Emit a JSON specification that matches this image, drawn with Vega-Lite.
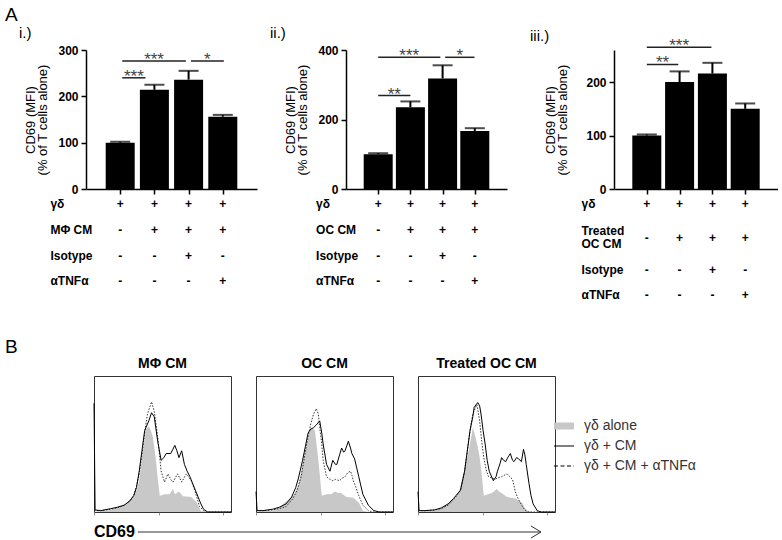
{
"$schema": "https://vega.github.io/schema/vega-lite/v6.json",
"padding": {"left": 5, "top": 5, "right": 0, "bottom": 0},
"config": {
  "font": "Liberation Sans",
  "view": {"stroke": null},
  "axis": {"labelColor": "black", "titleColor": "black", "domainColor": "black", "tickColor": "black", "grid": false, "labelFont": "Liberation Sans", "titleFont": "Liberation Sans"},
  "title": {"color": "black", "fontWeight": "normal", "font": "Liberation Sans", "baseline": "alphabetic"},
  "text": {"font": "Liberation Sans", "color": "black"},
  "legend": {"layout": {"right": {"anchor": "middle"}}, "labelFont": "Liberation Sans", "labelFontSize": 14, "labelColor": "#333", "symbolSize": 400, "rowPadding": 2, "labelOffset": 9, "offset": 13, "padding": 0}
},
"datasets": {
  "bi": [{"pos":1,"mfi":100,"up":102},{"pos":2,"mfi":214,"up":225},{"pos":3,"mfi":236,"up":255},{"pos":4,"mfi":156,"up":160}],
  "bii": [{"pos":1,"mfi":100,"up":103},{"pos":2,"mfi":235,"up":252},{"pos":3,"mfi":318,"up":356},{"pos":4,"mfi":167,"up":175}],
  "biii": [{"pos":1,"mfi":100,"up":102},{"pos":2,"mfi":200,"up":220},{"pos":3,"mfi":216,"up":236},{"pos":4,"mfi":150,"up":160}],
  "si": [{"x1":1.06,"x2":1.74,"y":240,"t":"***"},{"x1":1.06,"x2":2.92,"y":276,"t":"***"},{"x1":3.07,"x2":4.03,"y":276,"t":"*"}],
  "sii": [{"x1":1.0,"x2":2.0,"y":269,"t":"**"},{"x1":1.0,"x2":2.93,"y":379,"t":"***"},{"x1":3.08,"x2":3.99,"y":379,"t":"*"}],
  "siii": [{"x1":1.0,"x2":1.96,"y":233,"t":"**"},{"x1":1.0,"x2":2.97,"y":265,"t":"***"}],
  "tab": [{"c":1,"r":0,"t":"+"},{"c":2,"r":0,"t":"+"},{"c":3,"r":0,"t":"+"},{"c":4,"r":0,"t":"+"},{"c":1,"r":1,"t":"-"},{"c":2,"r":1,"t":"+"},{"c":3,"r":1,"t":"+"},{"c":4,"r":1,"t":"+"},{"c":1,"r":2,"t":"-"},{"c":2,"r":2,"t":"-"},{"c":3,"r":2,"t":"+"},{"c":4,"r":2,"t":"-"},{"c":1,"r":3,"t":"-"},{"c":2,"r":3,"t":"-"},{"c":3,"r":3,"t":"-"},{"c":4,"r":3,"t":"+"}],
  "tab3": [{"c":1,"r":0,"t":"+"},{"c":2,"r":0,"t":"+"},{"c":3,"r":0,"t":"+"},{"c":4,"r":0,"t":"+"},{"c":1,"r":1.32,"t":"-"},{"c":2,"r":1.32,"t":"+"},{"c":3,"r":1.32,"t":"+"},{"c":4,"r":1.32,"t":"+"},{"c":1,"r":2.57,"t":"-"},{"c":2,"r":2.57,"t":"-"},{"c":3,"r":2.57,"t":"+"},{"c":4,"r":2.57,"t":"-"},{"c":1,"r":3.54,"t":"-"},{"c":2,"r":3.54,"t":"-"},{"c":3,"r":3.54,"t":"-"},{"c":4,"r":3.54,"t":"+"}],
  "li": [{"r":0,"label":"γδ"},{"r":1,"label":"MΦ CM"},{"r":2,"label":"Isotype"},{"r":3,"label":"αTNFα"}],
  "lii": [{"r":0,"label":"γδ"},{"r":1,"label":"OC CM"},{"r":2,"label":"Isotype"},{"r":3,"label":"αTNFα"}],
  "liii": [{"r":0,"label":"γδ"},{"r":1.05,"label":"Treated\nOC CM"},{"r":2.57,"label":"Isotype"},{"r":3.54,"label":"αTNFα"}],
  "h1": [
    {"s":"a","x":0,"y":0},{"s":"a","x":5,"y":0.5},{"s":"a","x":12,"y":1.5},{"s":"a","x":17,"y":3},{"s":"a","x":22,"y":5},{"s":"a","x":26,"y":8.5},{"s":"a","x":29,"y":11},{"s":"a","x":31,"y":16},{"s":"a","x":33,"y":23},{"s":"a","x":35.5,"y":43},{"s":"a","x":38,"y":61},{"s":"a","x":40,"y":63},{"s":"a","x":41.5,"y":60},{"s":"a","x":43,"y":55},{"s":"a","x":45,"y":40},{"s":"a","x":46.5,"y":25},{"s":"a","x":48,"y":12},{"s":"a","x":51.5,"y":13},{"s":"a","x":55,"y":13},{"s":"a","x":57.6,"y":17},{"s":"a","x":59,"y":13},{"s":"a","x":62,"y":15},{"s":"a","x":65,"y":11.5},{"s":"a","x":71,"y":11},{"s":"a","x":75,"y":7},{"s":"a","x":78,"y":1},{"s":"a","x":82,"y":0},{"s":"a","x":100,"y":0},
    {"s":"c","x":0,"y":80},{"s":"c","x":0.8,"y":1.5},{"s":"c","x":5,"y":1},{"s":"c","x":12,"y":2.4},{"s":"c","x":17,"y":3.5},{"s":"c","x":22,"y":5},{"s":"c","x":26,"y":8},{"s":"c","x":29,"y":12},{"s":"c","x":31,"y":18},{"s":"c","x":33,"y":30},{"s":"c","x":35,"y":45},{"s":"c","x":37,"y":60},{"s":"c","x":40,"y":67},{"s":"c","x":42,"y":73},{"s":"c","x":44,"y":70},{"s":"c","x":46.5,"y":52},{"s":"c","x":49,"y":38},{"s":"c","x":51,"y":40},{"s":"c","x":52.7,"y":43},{"s":"c","x":56,"y":43},{"s":"c","x":57.5,"y":46},{"s":"c","x":59,"y":49},{"s":"c","x":60.5,"y":45},{"s":"c","x":62,"y":40},{"s":"c","x":64,"y":45},{"s":"c","x":66,"y":35},{"s":"c","x":68,"y":30},{"s":"c","x":70,"y":26},{"s":"c","x":72,"y":21},{"s":"c","x":74,"y":16},{"s":"c","x":76,"y":11},{"s":"c","x":78,"y":6},{"s":"c","x":80,"y":2},{"s":"c","x":83,"y":0},{"s":"c","x":100,"y":0},
    {"s":"t","x":0,"y":1},{"s":"t","x":5,"y":1},{"s":"t","x":12,"y":2},{"s":"t","x":17,"y":3},{"s":"t","x":22,"y":5},{"s":"t","x":26,"y":8},{"s":"t","x":29,"y":12},{"s":"t","x":31,"y":19},{"s":"t","x":33,"y":28},{"s":"t","x":35,"y":42},{"s":"t","x":37,"y":58},{"s":"t","x":39,"y":72},{"s":"t","x":42,"y":81},{"s":"t","x":44,"y":74},{"s":"t","x":46.5,"y":55},{"s":"t","x":49,"y":30},{"s":"t","x":51.5,"y":22},{"s":"t","x":54,"y":28},{"s":"t","x":56,"y":24},{"s":"t","x":57.6,"y":22},{"s":"t","x":61,"y":28},{"s":"t","x":62.5,"y":25},{"s":"t","x":64,"y":22},{"s":"t","x":67.4,"y":28},{"s":"t","x":69,"y":26},{"s":"t","x":71,"y":23},{"s":"t","x":73.5,"y":16},{"s":"t","x":75,"y":11},{"s":"t","x":77,"y":4},{"s":"t","x":80,"y":1},{"s":"t","x":82,"y":0},{"s":"t","x":100,"y":0}
  ],
  "h2": [
    {"s":"a","x":0,"y":0},{"s":"a","x":5,"y":0.5},{"s":"a","x":12,"y":1},{"s":"a","x":17,"y":3},{"s":"a","x":21,"y":7},{"s":"a","x":25,"y":10},{"s":"a","x":28,"y":13},{"s":"a","x":31,"y":20},{"s":"a","x":33,"y":30},{"s":"a","x":35,"y":40},{"s":"a","x":37,"y":50},{"s":"a","x":39,"y":58},{"s":"a","x":40,"y":62},{"s":"a","x":42,"y":61},{"s":"a","x":43,"y":60},{"s":"a","x":45,"y":43},{"s":"a","x":46.5,"y":28},{"s":"a","x":48,"y":12},{"s":"a","x":51.5,"y":13},{"s":"a","x":55,"y":13},{"s":"a","x":57.6,"y":15},{"s":"a","x":60,"y":14},{"s":"a","x":62,"y":14},{"s":"a","x":66,"y":11},{"s":"a","x":71,"y":10.5},{"s":"a","x":75,"y":7},{"s":"a","x":78,"y":1},{"s":"a","x":82,"y":0},{"s":"a","x":100,"y":0},
    {"s":"c","x":0,"y":15},{"s":"c","x":0.8,"y":1},{"s":"c","x":5,"y":1},{"s":"c","x":12,"y":2},{"s":"c","x":17,"y":3.5},{"s":"c","x":22,"y":6},{"s":"c","x":26,"y":11},{"s":"c","x":29,"y":18},{"s":"c","x":31,"y":25},{"s":"c","x":34,"y":38},{"s":"c","x":36,"y":48},{"s":"c","x":38,"y":58},{"s":"c","x":40,"y":61},{"s":"c","x":42,"y":62},{"s":"c","x":44,"y":64},{"s":"c","x":46.5,"y":67},{"s":"c","x":48,"y":58},{"s":"c","x":49,"y":50},{"s":"c","x":51.5,"y":35},{"s":"c","x":54,"y":30},{"s":"c","x":56,"y":38},{"s":"c","x":58,"y":35},{"s":"c","x":59,"y":35},{"s":"c","x":61,"y":42},{"s":"c","x":62.5,"y":47},{"s":"c","x":64,"y":44},{"s":"c","x":65,"y":45},{"s":"c","x":67.4,"y":52},{"s":"c","x":69,"y":47},{"s":"c","x":70,"y":43},{"s":"c","x":72,"y":39},{"s":"c","x":75,"y":26},{"s":"c","x":78,"y":13},{"s":"c","x":82,"y":5},{"s":"c","x":86,"y":1},{"s":"c","x":90,"y":0},{"s":"c","x":100,"y":0},
    {"s":"t","x":0,"y":1},{"s":"t","x":5,"y":1},{"s":"t","x":12,"y":1.5},{"s":"t","x":17,"y":2.5},{"s":"t","x":22,"y":4},{"s":"t","x":27,"y":10},{"s":"t","x":30,"y":16},{"s":"t","x":33,"y":26},{"s":"t","x":35,"y":38},{"s":"t","x":37,"y":50},{"s":"t","x":40,"y":65},{"s":"t","x":42,"y":72},{"s":"t","x":44,"y":76},{"s":"t","x":45.5,"y":72},{"s":"t","x":46.5,"y":62},{"s":"t","x":48,"y":50},{"s":"t","x":49,"y":38},{"s":"t","x":51.5,"y":26},{"s":"t","x":54,"y":24},{"s":"t","x":56,"y":23},{"s":"t","x":58,"y":24},{"s":"t","x":61,"y":23},{"s":"t","x":63,"y":25},{"s":"t","x":65,"y":26},{"s":"t","x":67,"y":29},{"s":"t","x":69,"y":30},{"s":"t","x":70,"y":27},{"s":"t","x":71,"y":23},{"s":"t","x":73,"y":18},{"s":"t","x":75,"y":12},{"s":"t","x":78,"y":5},{"s":"t","x":82,"y":1},{"s":"t","x":85,"y":0},{"s":"t","x":100,"y":0}
  ],
  "h3": [
    {"s":"a","x":0,"y":0},{"s":"a","x":5,"y":0.5},{"s":"a","x":12,"y":1},{"s":"a","x":17,"y":3},{"s":"a","x":22,"y":6},{"s":"a","x":26,"y":9},{"s":"a","x":29,"y":13},{"s":"a","x":31,"y":18},{"s":"a","x":33,"y":26},{"s":"a","x":35,"y":36},{"s":"a","x":37,"y":45},{"s":"a","x":39,"y":56},{"s":"a","x":40,"y":62},{"s":"a","x":42,"y":55},{"s":"a","x":44,"y":46},{"s":"a","x":45,"y":40},{"s":"a","x":46.5,"y":28},{"s":"a","x":48,"y":12},{"s":"a","x":51,"y":13},{"s":"a","x":54,"y":14},{"s":"a","x":57.6,"y":17},{"s":"a","x":59,"y":15},{"s":"a","x":61,"y":14},{"s":"a","x":65,"y":11},{"s":"a","x":71,"y":10},{"s":"a","x":76,"y":7},{"s":"a","x":78,"y":3},{"s":"a","x":80,"y":1},{"s":"a","x":83,"y":0},{"s":"a","x":100,"y":0},
    {"s":"c","x":0,"y":15},{"s":"c","x":0.8,"y":1},{"s":"c","x":5,"y":1},{"s":"c","x":12,"y":1.5},{"s":"c","x":17,"y":3},{"s":"c","x":22,"y":6},{"s":"c","x":26,"y":10},{"s":"c","x":31,"y":16},{"s":"c","x":34,"y":30},{"s":"c","x":36,"y":45},{"s":"c","x":38,"y":60},{"s":"c","x":40,"y":70},{"s":"c","x":41,"y":77},{"s":"c","x":43.6,"y":80.5},{"s":"c","x":45,"y":78},{"s":"c","x":46,"y":72},{"s":"c","x":47.5,"y":60},{"s":"c","x":49,"y":50},{"s":"c","x":50.5,"y":38},{"s":"c","x":52,"y":30},{"s":"c","x":55,"y":23},{"s":"c","x":57,"y":26},{"s":"c","x":58,"y":30},{"s":"c","x":60,"y":36},{"s":"c","x":61,"y":40},{"s":"c","x":62.5,"y":38},{"s":"c","x":64,"y":37},{"s":"c","x":65.5,"y":40},{"s":"c","x":67.4,"y":43},{"s":"c","x":69,"y":38},{"s":"c","x":70,"y":37},{"s":"c","x":72,"y":40},{"s":"c","x":73.5,"y":39},{"s":"c","x":75.5,"y":37},{"s":"c","x":77,"y":46},{"s":"c","x":78,"y":42},{"s":"c","x":79,"y":35},{"s":"c","x":81,"y":21},{"s":"c","x":82.5,"y":12},{"s":"c","x":84,"y":6},{"s":"c","x":87,"y":1},{"s":"c","x":90,"y":0},{"s":"c","x":100,"y":0},
    {"s":"t","x":0,"y":1},{"s":"t","x":5,"y":1},{"s":"t","x":12,"y":1.5},{"s":"t","x":17,"y":2.5},{"s":"t","x":22,"y":5},{"s":"t","x":26,"y":9},{"s":"t","x":31,"y":16},{"s":"t","x":34,"y":30},{"s":"t","x":36,"y":45},{"s":"t","x":38,"y":60},{"s":"t","x":40,"y":72},{"s":"t","x":43,"y":79},{"s":"t","x":44,"y":73},{"s":"t","x":45,"y":67},{"s":"t","x":46.5,"y":52},{"s":"t","x":48,"y":40},{"s":"t","x":50,"y":30},{"s":"t","x":51.5,"y":26},{"s":"t","x":54,"y":25},{"s":"t","x":56,"y":24},{"s":"t","x":58,"y":25},{"s":"t","x":61,"y":26},{"s":"t","x":63,"y":27},{"s":"t","x":65,"y":28},{"s":"t","x":67,"y":26},{"s":"t","x":69,"y":24},{"s":"t","x":71,"y":15},{"s":"t","x":73,"y":10},{"s":"t","x":75,"y":6},{"s":"t","x":78,"y":1.5},{"s":"t","x":80,"y":0},{"s":"t","x":100,"y":0}
  ]
},
"resolve": {"scale": {"color": "independent", "strokeDash": "independent", "shape": "independent"}, "legend": {"color": "independent", "strokeDash": "independent", "shape": "independent"}},
"spacing": 35,
"vconcat": [
  {
    "title": {"text": "A", "anchor": "start", "frame": "group", "dx": -81, "fontSize": 19, "offset": 1},
    "spacing": 23,
    "hconcat": [
      {
        "spacing": 13,
        "hconcat": [
          {
            "width": 171, "height": 139,
            "title": {"text": "i.)", "anchor": "start", "frame": "group", "dx": -67, "fontSize": 15, "offset": 3.5},
            "resolve": {"scale": {"y": "independent"}},
            "layer": [
              {"layer": [
                {"data": {"name": "bi"}, "mark": {"type": "bar", "size": 29, "color": "black"},
                 "encoding": {
                   "x": {"field": "pos", "type": "quantitative", "scale": {"domain": [0.36, 4.48]}, "axis": {"values": [1,2,3,4], "labels": false, "title": null, "tickSize": 5, "tickWidth": 1.5, "domainWidth": 1.5}},
                   "y": {"field": "mfi", "type": "quantitative", "scale": {"domain": [0, 300]}, "axis": {"values": [0,100,200,300], "title": ["CD69 (MFI)", "(% of T cells alone)"], "titleFontSize": 13, "titleFontWeight": "normal", "titlePadding": 8, "titleLineHeight": 12, "labelFontSize": 12, "labelFontWeight": "bold", "labelPadding": 3, "tickSize": 5, "tickWidth": 1.5, "domainWidth": 1.5}}}},
                {"data": {"name": "bi"}, "mark": {"type": "rule", "strokeWidth": 2, "color": "black"},
                 "encoding": {"x": {"field": "pos", "type": "quantitative"}, "y": {"field": "mfi", "type": "quantitative"}, "y2": {"field": "up"}}},
                {"data": {"name": "bi"}, "mark": {"type": "tick", "orient": "horizontal", "size": 20, "thickness": 2, "color": "black"},
                 "encoding": {"x": {"field": "pos", "type": "quantitative"}, "y": {"field": "up", "type": "quantitative"}}},
                {"data": {"name": "si"}, "mark": {"type": "rule", "strokeWidth": 1.5, "color": "#222"},
                 "encoding": {"x": {"field": "x1", "type": "quantitative"}, "x2": {"field": "x2"}, "y": {"field": "y", "type": "quantitative"}}},
                {"data": {"name": "si"}, "transform": [{"calculate": "(datum.x1 + datum.x2) / 2", "as": "xm"}],
                 "mark": {"type": "text", "fontSize": 17, "color": "#444", "baseline": "alphabetic", "dy": 4},
                 "encoding": {"x": {"field": "xm", "type": "quantitative"}, "y": {"field": "y", "type": "quantitative"}, "text": {"field": "t"}}}
              ]},
              {"layer": [
                {"data": {"name": "tab"}, "mark": {"type": "text", "fontSize": 12, "fontWeight": "bold", "baseline": "middle"},
                 "encoding": {"x": {"field": "c", "type": "quantitative", "scale": {"domain": [0.36, 4.48]}}, "y": {"field": "r", "type": "quantitative", "scale": {"domain": [-6.01, -0.6], "reverse": true}, "axis": null}, "text": {"field": "t"}}},
                {"data": {"name": "li"}, "mark": {"type": "text", "fontSize": 12, "fontWeight": "bold", "align": "left", "baseline": "middle"},
                 "encoding": {"x": {"datum": -1.04, "type": "quantitative"}, "y": {"field": "r", "type": "quantitative", "scale": {"domain": [-6.01, -0.6], "reverse": true}}, "text": {"field": "label"}}}
              ]}
            ]
          },
          {
            "width": 161, "height": 139,
            "title": {"text": "ii.)", "anchor": "start", "frame": "group", "dx": -76, "fontSize": 15, "offset": 3.5},
            "resolve": {"scale": {"y": "independent"}},
            "layer": [
              {"layer": [
                {"data": {"name": "bii"}, "mark": {"type": "bar", "size": 29, "color": "black"},
                 "encoding": {
                   "x": {"field": "pos", "type": "quantitative", "scale": {"domain": [0.51, 4.44]}, "axis": {"values": [1,2,3,4], "labels": false, "title": null, "tickSize": 5, "tickWidth": 1.5, "domainWidth": 1.5}},
                   "y": {"field": "mfi", "type": "quantitative", "scale": {"domain": [0, 400]}, "axis": {"values": [0,100,200,300,400], "title": ["CD69 (MFI)", "(% of T cells alone)"], "titleFontSize": 13, "titleFontWeight": "normal", "titlePadding": 8, "titleLineHeight": 12, "labelFontSize": 12, "labelFontWeight": "bold", "labelPadding": 3, "tickSize": 5, "tickWidth": 1.5, "domainWidth": 1.5}}}},
                {"data": {"name": "bii"}, "mark": {"type": "rule", "strokeWidth": 2, "color": "black"},
                 "encoding": {"x": {"field": "pos", "type": "quantitative"}, "y": {"field": "mfi", "type": "quantitative"}, "y2": {"field": "up"}}},
                {"data": {"name": "bii"}, "mark": {"type": "tick", "orient": "horizontal", "size": 20, "thickness": 2, "color": "black"},
                 "encoding": {"x": {"field": "pos", "type": "quantitative"}, "y": {"field": "up", "type": "quantitative"}}},
                {"data": {"name": "sii"}, "mark": {"type": "rule", "strokeWidth": 1.5, "color": "#222"},
                 "encoding": {"x": {"field": "x1", "type": "quantitative"}, "x2": {"field": "x2"}, "y": {"field": "y", "type": "quantitative"}}},
                {"data": {"name": "sii"}, "transform": [{"calculate": "(datum.x1 + datum.x2) / 2", "as": "xm"}],
                 "mark": {"type": "text", "fontSize": 17, "color": "#444", "baseline": "alphabetic", "dy": 4},
                 "encoding": {"x": {"field": "xm", "type": "quantitative"}, "y": {"field": "y", "type": "quantitative"}, "text": {"field": "t"}}}
              ]},
              {"layer": [
                {"data": {"name": "tab"}, "mark": {"type": "text", "fontSize": 12, "fontWeight": "bold", "baseline": "middle"},
                 "encoding": {"x": {"field": "c", "type": "quantitative", "scale": {"domain": [0.51, 4.44]}}, "y": {"field": "r", "type": "quantitative", "scale": {"domain": [-6.01, -0.6], "reverse": true}, "axis": null}, "text": {"field": "t"}}},
                {"data": {"name": "lii"}, "mark": {"type": "text", "fontSize": 12, "fontWeight": "bold", "align": "left", "baseline": "middle"},
                 "encoding": {"x": {"datum": -0.93, "type": "quantitative"}, "y": {"field": "r", "type": "quantitative", "scale": {"domain": [-6.01, -0.6], "reverse": true}}, "text": {"field": "label"}}}
              ]}
            ]
          }
        ]
      },
      {
        "width": 164, "height": 139,
        "title": {"text": "iii.)", "anchor": "start", "frame": "group", "dx": -84, "dy": 10, "fontSize": 15, "offset": 3.5},
        "resolve": {"scale": {"y": "independent"}},
        "layer": [
          {"layer": [
            {"data": {"name": "biii"}, "mark": {"type": "bar", "size": 29, "color": "black"},
             "encoding": {
               "x": {"field": "pos", "type": "quantitative", "scale": {"domain": [0.5, 4.5]}, "axis": {"values": [1,2,3,4], "labels": false, "title": null, "tickSize": 5, "tickWidth": 1.5, "domainWidth": 1.5}},
               "y": {"field": "mfi", "type": "quantitative", "scale": {"domain": [0, 250]}, "axis": {"values": [0,50,100,150,200,250], "title": ["CD69 (MFI)", "(% of T cells alone)"], "titleFontSize": 13, "titleFontWeight": "normal", "titlePadding": 16, "titleLineHeight": 12, "labelFontSize": 12, "labelFontWeight": "bold", "labelPadding": 3, "tickSize": 5, "tickWidth": 1.5, "domainWidth": 1.5}}}},
            {"data": {"name": "biii"}, "mark": {"type": "rule", "strokeWidth": 2, "color": "black"},
             "encoding": {"x": {"field": "pos", "type": "quantitative"}, "y": {"field": "mfi", "type": "quantitative"}, "y2": {"field": "up"}}},
            {"data": {"name": "biii"}, "mark": {"type": "tick", "orient": "horizontal", "size": 20, "thickness": 2, "color": "black"},
             "encoding": {"x": {"field": "pos", "type": "quantitative"}, "y": {"field": "up", "type": "quantitative"}}},
            {"data": {"name": "siii"}, "mark": {"type": "rule", "strokeWidth": 1.5, "color": "#222"},
             "encoding": {"x": {"field": "x1", "type": "quantitative"}, "x2": {"field": "x2"}, "y": {"field": "y", "type": "quantitative"}}},
            {"data": {"name": "siii"}, "transform": [{"calculate": "(datum.x1 + datum.x2) / 2", "as": "xm"}],
             "mark": {"type": "text", "fontSize": 17, "color": "#444", "baseline": "alphabetic", "dy": 4},
             "encoding": {"x": {"field": "xm", "type": "quantitative"}, "y": {"field": "y", "type": "quantitative"}, "text": {"field": "t"}}}
          ]},
          {"layer": [
            {"data": {"name": "tab3"}, "mark": {"type": "text", "fontSize": 12, "fontWeight": "bold", "baseline": "middle"},
             "encoding": {"x": {"field": "c", "type": "quantitative", "scale": {"domain": [0.5, 4.5]}}, "y": {"field": "r", "type": "quantitative", "scale": {"domain": [-6.01, -0.6], "reverse": true}, "axis": null}, "text": {"field": "t"}}},
            {"data": {"name": "liii"}, "mark": {"type": "text", "fontSize": 12, "fontWeight": "bold", "align": "left", "baseline": "middle", "lineBreak": "\n", "lineHeight": 13},
             "encoding": {"x": {"datum": -0.99, "type": "quantitative"}, "y": {"field": "r", "type": "quantitative", "scale": {"domain": [-6.01, -0.6], "reverse": true}}, "text": {"field": "label"}}}
          ]}
        ]
      }
    ]
  },
  {
    "title": {"text": "B", "anchor": "start", "frame": "group", "dx": -81, "fontSize": 19, "offset": 0},
    "spacing": 4,
    "resolve": {"scale": {"color": "independent", "strokeDash": "independent", "shape": "independent"}, "legend": {"color": "independent", "strokeDash": "independent", "shape": "independent"}},
    "hconcat": [
      {"width": 1, "height": 1, "data": {"values": []}, "mark": "point", "encoding": {}},
      {
        "spacing": 8,
        "resolve": {"scale": {"color": "independent", "strokeDash": "independent", "shape": "independent"}, "legend": {"color": "independent", "strokeDash": "independent", "shape": "independent"}},
        "vconcat": [
          {
            "spacing": 19,
            "resolve": {"scale": {"color": "independent", "strokeDash": "independent", "shape": "independent"}, "legend": {"color": "independent", "strokeDash": "independent", "shape": "independent"}},
            "hconcat": [
              {
                "width": 137, "height": 136,
                "view": {"stroke": "#333", "strokeWidth": 1},
                "title": {"text": "MΦ CM", "fontSize": 14, "fontWeight": "bold", "frame": "group", "offset": 5},
                "data": {"name": "h1"},
                "layer": [
                  {"transform": [{"filter": "datum.s == 'a'"}], "mark": {"type": "area", "color": "#c8c8c8"},
                   "encoding": {"x": {"field": "x", "type": "quantitative", "scale": {"domain": [0, 100]}, "axis": {"values": [0,7.5,11.9,15.1,17.5,19.5,21.1,22.6,23.9,25,32.5,36.9,40.1,42.5,44.5,46.1,47.6,48.9,50,57.5,61.9,65.1,67.5,69.5,71.1,72.6,73.9,75,82.5,86.9,90.1,92.5,94.5,96.1,97.6,98.9], "labels": false, "domain": false, "title": null, "tickSize": 3, "tickColor": "#777", "tickWidth": 0.8}},
                                "y": {"field": "y", "type": "quantitative", "scale": {"domain": [0, 100]}, "axis": null}}},
                  {"transform": [{"filter": "datum.s == 't'"}], "mark": {"type": "line", "color": "#333", "strokeWidth": 1, "strokeDash": [1.5, 1.5]},
                   "encoding": {"x": {"field": "x", "type": "quantitative"}, "y": {"field": "y", "type": "quantitative"}}},
                  {"transform": [{"filter": "datum.s == 'c'"}], "mark": {"type": "line", "color": "black", "strokeWidth": 1},
                   "encoding": {"x": {"field": "x", "type": "quantitative"}, "y": {"field": "y", "type": "quantitative"}}}
                ]
              },
              {
                "width": 137, "height": 136,
                "view": {"stroke": "#333", "strokeWidth": 1},
                "title": {"text": "OC CM", "fontSize": 14, "fontWeight": "bold", "frame": "group", "offset": 5},
                "data": {"name": "h2"},
                "layer": [
                  {"transform": [{"filter": "datum.s == 'a'"}], "mark": {"type": "area", "color": "#c8c8c8"},
                   "encoding": {"x": {"field": "x", "type": "quantitative", "scale": {"domain": [0, 100]}, "axis": {"values": [0,7.5,11.9,15.1,17.5,19.5,21.1,22.6,23.9,25,32.5,36.9,40.1,42.5,44.5,46.1,47.6,48.9,50,57.5,61.9,65.1,67.5,69.5,71.1,72.6,73.9,75,82.5,86.9,90.1,92.5,94.5,96.1,97.6,98.9], "labels": false, "domain": false, "title": null, "tickSize": 3, "tickColor": "#777", "tickWidth": 0.8}},
                                "y": {"field": "y", "type": "quantitative", "scale": {"domain": [0, 100]}, "axis": null}}},
                  {"transform": [{"filter": "datum.s == 't'"}], "mark": {"type": "line", "color": "#333", "strokeWidth": 1, "strokeDash": [1.5, 1.5]},
                   "encoding": {"x": {"field": "x", "type": "quantitative"}, "y": {"field": "y", "type": "quantitative"}}},
                  {"transform": [{"filter": "datum.s == 'c'"}], "mark": {"type": "line", "color": "black", "strokeWidth": 1},
                   "encoding": {"x": {"field": "x", "type": "quantitative"}, "y": {"field": "y", "type": "quantitative"}}}
                ]
              },
              {
                "width": 137, "height": 136,
                "view": {"stroke": "#333", "strokeWidth": 1},
                "title": {"text": "Treated OC CM", "fontSize": 14, "fontWeight": "bold", "frame": "group", "offset": 5},
                "data": {"name": "h3"},
                "layer": [
                  {"transform": [{"filter": "datum.s == 'a'"}], "mark": {"type": "area", "color": "#c8c8c8"},
                   "encoding": {"x": {"field": "x", "type": "quantitative", "scale": {"domain": [0, 100]}, "axis": {"values": [0,7.5,11.9,15.1,17.5,19.5,21.1,22.6,23.9,25,32.5,36.9,40.1,42.5,44.5,46.1,47.6,48.9,50,57.5,61.9,65.1,67.5,69.5,71.1,72.6,73.9,75,82.5,86.9,90.1,92.5,94.5,96.1,97.6,98.9], "labels": false, "domain": false, "title": null, "tickSize": 3, "tickColor": "#777", "tickWidth": 0.8}},
                                "y": {"field": "y", "type": "quantitative", "scale": {"domain": [0, 100]}, "axis": null}}},
                  {"transform": [{"filter": "datum.s == 't'"}], "mark": {"type": "line", "color": "#333", "strokeWidth": 1, "strokeDash": [1.5, 1.5]},
                   "encoding": {"x": {"field": "x", "type": "quantitative"}, "y": {"field": "y", "type": "quantitative"}}},
                  {"transform": [{"filter": "datum.s == 'c'"}], "mark": {"type": "line", "color": "black", "strokeWidth": 1},
                   "encoding": {"x": {"field": "x", "type": "quantitative"}, "y": {"field": "y", "type": "quantitative"}}},
                  {"transform": [{"filter": "false"}], "mark": {"type": "point", "filled": false, "opacity": 1, "strokeWidth": 1.2},
                   "encoding": {"x": {"field": "x", "type": "quantitative"}, "y": {"field": "y", "type": "quantitative"},
                     "shape": {"field": "s", "type": "nominal", "scale": {"domain": ["a","c","t"], "range": ["M-1,-0.3H1M-1,-0.2H1M-1,-0.1H1M-1,0H1M-1,0.1H1M-1,0.2H1M-1,0.3H1", "M-1,0H1", "M-1,0H1"]}, "legend": {"title": null, "offset": -2, "symbolStrokeWidth": 1.2, "labelExpr": "datum.label == 'a' ? 'γδ alone' : datum.label == 'c' ? 'γδ + CM' : 'γδ + CM + αTNFα'"}},
                     "color": {"field": "s", "type": "nominal", "scale": {"domain": ["a","c","t"], "range": ["#c8c8c8","black","black"]}, "legend": {"title": null, "offset": -2, "symbolStrokeWidth": 1.2, "labelExpr": "datum.label == 'a' ? 'γδ alone' : datum.label == 'c' ? 'γδ + CM' : 'γδ + CM + αTNFα'"}},
                     "strokeDash": {"field": "s", "type": "nominal", "scale": {"domain": ["a","c","t"], "range": [[1,0],[1,0],[4,2.5]]}, "legend": {"title": null, "offset": -2, "symbolStrokeWidth": 1.2, "labelExpr": "datum.label == 'a' ? 'γδ alone' : datum.label == 'c' ? 'γδ + CM' : 'γδ + CM + αTNFα'"}}}}
                ]
              }
            ]
          },
          {
            "width": 447, "height": 12,
            "layer": [
              {"data": {"values": [{"label": "CD69"}]}, "mark": {"type": "text", "align": "left", "baseline": "middle", "fontSize": 16, "fontWeight": "bold"},
               "encoding": {"x": {"datum": 0, "type": "quantitative", "scale": {"domain": [0, 100]}, "axis": null}, "y": {"datum": 0, "type": "quantitative", "scale": {"domain": [-1, 1]}, "axis": null}, "text": {"field": "label"}}},
              {"data": {"values": [{"from": 9.8, "to": 100}]}, "mark": {"type": "rule", "color": "#333", "strokeWidth": 1},
               "encoding": {"x": {"field": "from", "type": "quantitative"}, "x2": {"field": "to"}, "y": {"datum": 0, "type": "quantitative"}}},
              {"data": {"values": [{"at": 100}]}, "mark": {"type": "point", "shape": "M-2,-1.2L0,0L-2,1.2", "size": 100, "filled": false, "color": "#333", "strokeWidth": 1, "opacity": 1},
               "encoding": {"x": {"field": "at", "type": "quantitative"}, "y": {"datum": 0, "type": "quantitative"}}}
            ]
          }
        ]
      }
    ]
  }
]
}
